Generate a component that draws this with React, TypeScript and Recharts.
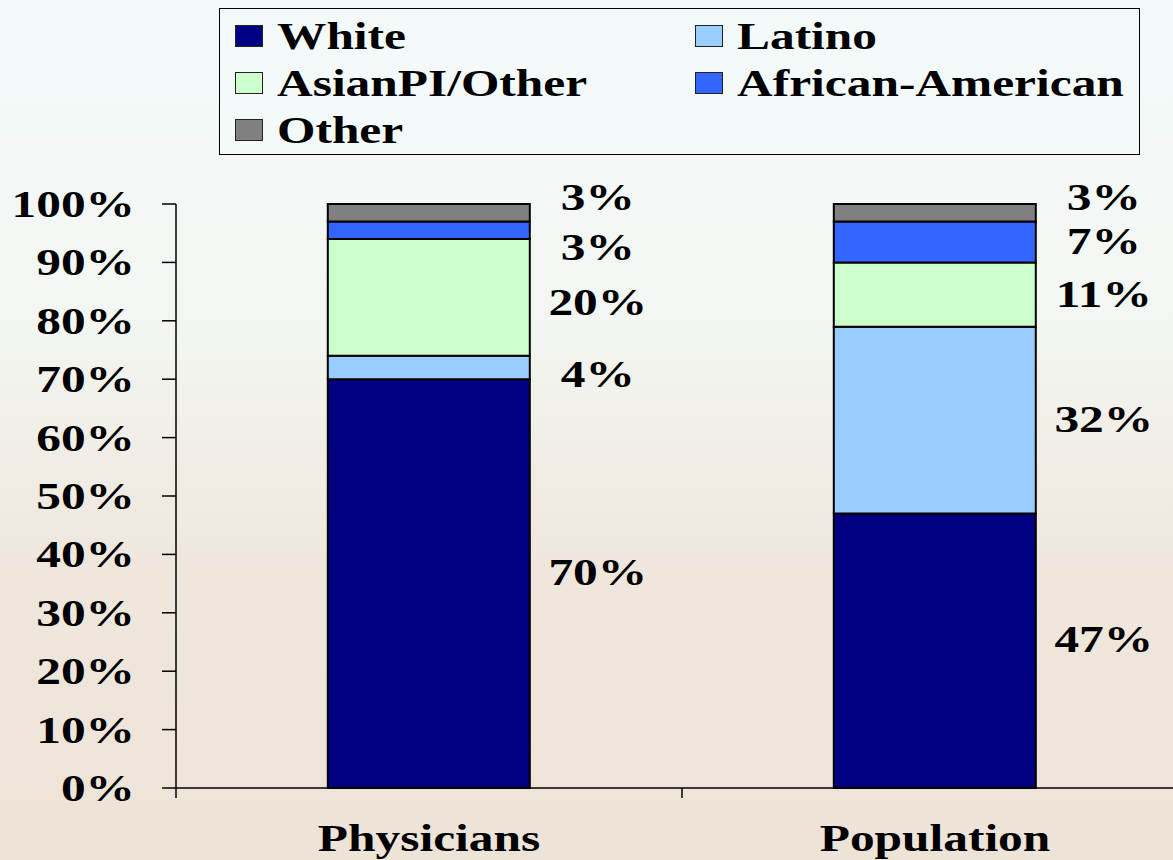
import React from "react";
import { BarChart, Bar, XAxis, YAxis, LabelList } from "recharts";

const categories = ["Physicians", "Population"];

const white = [70, 47];
const latino = [4, 32];
const asianOther = [20, 11];
const africanAmerican = [3, 7];
const other = [3, 3];

const yTicks = [0, 10, 20, 30, 40, 50, 60, 70, 80, 90, 100];

const series = [
  { key: "white", name: "White", color: "#000080", values: white },
  { key: "latino", name: "Latino", color: "#99ccff", values: latino },
  { key: "asian", name: "AsianPI/Other", color: "#ccffcc", values: asianOther },
  { key: "african", name: "African-American", color: "#3366ff", values: africanAmerican },
  { key: "other", name: "Other", color: "#808080", values: other },
];

// legend reads row by row, two columns
const legendOrder = ["white", "latino", "asian", "african", "other"];

const data = categories.map((c, i) => {
  const row: any = { name: c };
  series.forEach((s) => (row[s.key] = s.values[i]));
  return row;
});

const W = 1190;
const H = 860;
const TOP = 204;
const X_AXIS_H = 72;
const Y_AXIS_W = 176;
const RIGHT = 2;
const AXIS_Y = H - X_AXIS_H;
const BAND = (W - Y_AXIS_W - RIGHT) / categories.length;

const FONT = "'Liberation Serif', 'Times New Roman', serif";
const FS = 38;
const STRETCH = 1.3;

const YTick = (props: any) => {
  const { x, y, payload } = props;
  return (
    <text
      transform={`translate(${x},${y + 13}) scale(${STRETCH},1)`}
      textAnchor="end"
      fontFamily={FONT}
      fontWeight="bold"
      fontSize={FS}
      fill="#000"
    >
      {payload.value}%
    </text>
  );
};

const XTick = (props: any) => {
  const { x, payload, index } = props;
  return (
    <g>
      <line x1={x + BAND / 2} x2={x + BAND / 2} y1={AXIS_Y} y2={AXIS_Y + 10} stroke="#000" strokeWidth={1.5} />
      {index === 0 && (
        <line x1={x - BAND / 2} x2={x - BAND / 2} y1={AXIS_Y} y2={AXIS_Y + 10} stroke="#000" strokeWidth={1.5} />
      )}
      <text
        transform={`translate(${x},${AXIS_Y + 63}) scale(${STRETCH},1)`}
        textAnchor="middle"
        fontFamily={FONT}
        fontWeight="bold"
        fontSize={FS}
        fill="#000"
      >
        {payload.value}
      </text>
    </g>
  );
};

const makeLabel = (key: string) => (props: any) => {
  const { x, y, width, height, value } = props;
  let cy = y + height / 2;
  // nudge labels of thin segments apart so they don't collide
  if (key === "other") cy -= 15;
  if (key === "african" && height < 30) cy += 18;
  if (key === "white") cy -= 11;
  if (key === "asian" && height > 100) cy += 6;
  if (key === "latino" && height < 30) cy += 7;
  return (
    <text
      transform={`translate(${x + width + 68},${cy + 12}) scale(${STRETCH},1)`}
      textAnchor="middle"
      fontFamily={FONT}
      fontWeight="bold"
      fontSize={FS}
      fill="#000"
    >
      {value}%
    </text>
  );
};

const Legendbox = () => (
  <div
    style={{
      position: "absolute",
      left: 219,
      top: 8,
      width: 921,
      height: 147,
      boxSizing: "border-box",
      border: "1.5px solid #000",
      background: "#f4fafa",
      display: "grid",
      gridTemplateColumns: "460px 460px",
      gridAutoRows: "47px",
      paddingTop: 3,
    }}
  >
    {legendOrder.map((k) => {
      const s = series.find((d) => d.key === k)!;
      return (
        <div key={k} style={{ display: "flex", alignItems: "center" }}>
          <span
            style={{
              marginLeft: 15,
              width: 28,
              height: 22,
              boxSizing: "border-box",
              border: "1.5px solid #222",
              background: s.color,
              flex: "none",
            }}
          />
          <span
            style={{
              marginLeft: 14,
              fontFamily: FONT,
              fontWeight: "bold",
              fontSize: FS,
              lineHeight: `${FS}px`,
              whiteSpace: "nowrap",
              display: "inline-block",
              transform: `scaleX(${STRETCH})`,
              transformOrigin: "left center",
            }}
          >
            {s.name}
          </span>
        </div>
      );
    })}
  </div>
);

export default function App() {
  return (
    <div
      style={{
        position: "fixed",
        left: 0,
        top: 0,
        width: 1173,
        height: 860,
        overflow: "hidden",
        background: "linear-gradient(to bottom, #f4fafb 0%, #f3f7f3 35%, #efe7dd 65%, #eee3d7 100%)",
      }}
    >
      <BarChart
        width={W}
        height={H}
        data={data}
        margin={{ top: TOP, right: RIGHT, bottom: 0, left: 0 }}
        barCategoryGap="30%"
      >
        <XAxis
          dataKey="name"
          height={X_AXIS_H}
          axisLine={{ stroke: "#000", strokeWidth: 1.5 }}
          tickLine={false}
          tick={<XTick />}
          interval={0}
        />
        <YAxis
          width={Y_AXIS_W}
          domain={[0, 100]}
          ticks={yTicks}
          interval={0}
          axisLine={{ stroke: "#000", strokeWidth: 1.5 }}
          tickLine={{ stroke: "#000", strokeWidth: 1.5 }}
          tickSize={14}
          tickMargin={27}
          tick={<YTick />}
        />
        {series.map((s) => (
          <Bar
            key={s.key}
            dataKey={s.key}
            name={s.name}
            stackId="a"
            fill={s.color}
            stroke="#000"
            strokeWidth={2}
            isAnimationActive={false}
          >
            <LabelList dataKey={s.key} content={makeLabel(s.key)} />
          </Bar>
        ))}
      </BarChart>
      <Legendbox />
    </div>
  );
}
